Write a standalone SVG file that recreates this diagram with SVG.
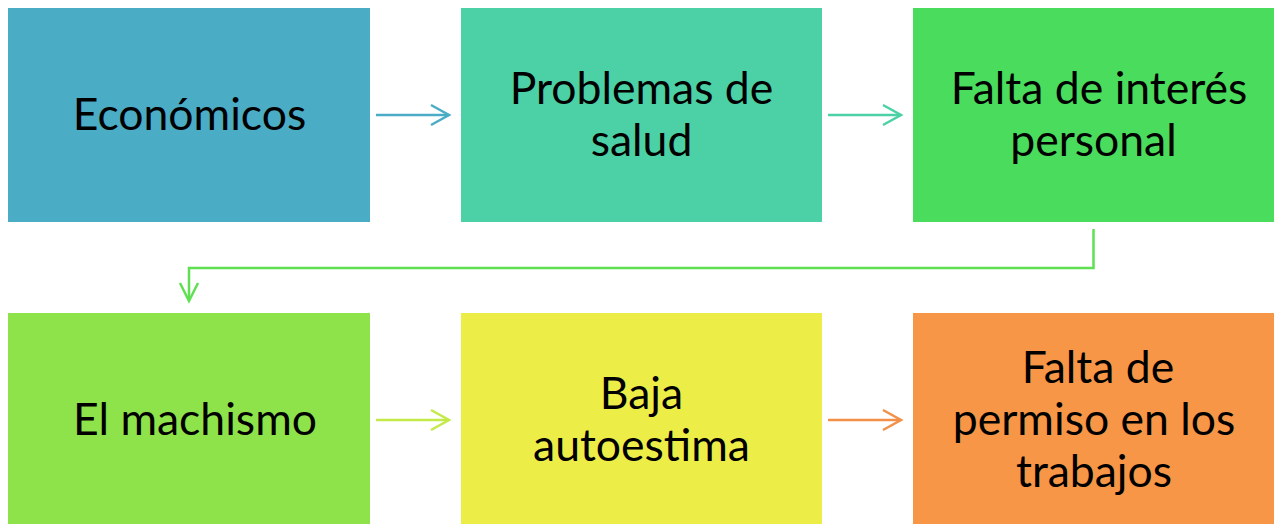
<svg xmlns="http://www.w3.org/2000/svg" width="1280" height="524" viewBox="0 0 1280 524">
<style>
  .t { font-family: Lato, "Liberation Sans", sans-serif; font-size: 44.5px; fill: #000; text-anchor: middle; }
  .c { fill: none; stroke-width: 2.5; stroke-linecap: butt; }
</style>
<rect width="1280" height="524" fill="#fff"/>
<g id="n1"><rect x="8" y="8" width="362" height="214" fill="#4BACC6"/><text class="t" x="189.5" y="130">Económicos</text></g>
<g id="n2"><rect x="461" y="8" width="361" height="214" fill="#4BD1A5"/><text class="t" x="641.5" y="104">Problemas de</text><text class="t" x="641.5" y="156">salud</text></g>
<g id="n3"><rect x="913" y="8" width="361" height="214" fill="#4ADC5C"/><text class="t" x="1099" y="104">Falta de interés</text><text class="t" x="1093.5" y="156">personal</text></g>
<g id="n4"><rect x="8" y="313" width="362" height="214" fill="#8FE34A"/><text class="t" x="195" y="435">El machismo</text></g>
<g id="n5"><rect x="461" y="313" width="361" height="214" fill="#EDED48"/><text class="t" x="641.5" y="409">Baja</text><text class="t" x="641.5" y="461">autoestima</text></g>
<g id="n6"><rect x="913" y="313" width="361" height="214" fill="#F79646"/><text class="t" x="1098" y="383">Falta de</text><text class="t" x="1094" y="435">permiso en los</text><text class="t" x="1094" y="487">trabajos</text></g>
<g id="connectors">
  <g stroke="#4BACC6" class="c"><path d="M376 115H449"/><path d="M431 105L449 115L431 125"/></g>
  <g stroke="#4BD1A5" class="c"><path d="M828 115H901"/><path d="M883 105L901 115L883 125"/></g>
  <g stroke="#5FE052" class="c"><path d="M1093.5 229V268H189V300"/><path d="M180 283L189 301L198 283"/></g>
  <g stroke="#C3EA48" class="c"><path d="M376 420H449"/><path d="M431 410L449 420L431 430"/></g>
  <g stroke="#F2904A" class="c"><path d="M828 420H901"/><path d="M883 410L901 420L883 430"/></g>
</g>
</svg>
